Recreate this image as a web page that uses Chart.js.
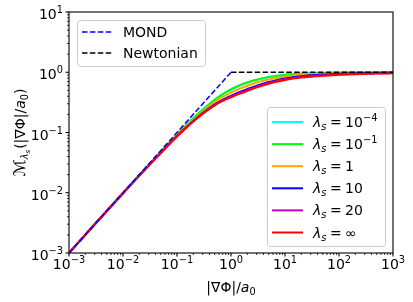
<!DOCTYPE html>
<html><head><meta charset="utf-8">
<script src="https://cdn.jsdelivr.net/npm/chart.js@4"></script>
<style>html,body{margin:0;padding:0;background:#fff}canvas{display:block}</style>
</head><body>
<canvas id="c" width="413" height="302"></canvas>
<script>
// ---- data ----
const xValues = [0.001,0.003,0.01,0.02,0.05,0.1,0.2,0.3,0.5,0.7,1,1.5,2,3,5,7,10,20,50,100,200,500,1000];
const yCyan    = [0.001,0.003,0.0099,0.0196,0.048,0.0935,0.173,0.24,0.352,0.433,0.523,0.618,0.678,0.753,0.832,0.872,0.907,0.946,0.971,0.983,0.99,0.995,0.997];
const yGreen   = [0.001,0.003,0.0099,0.0196,0.048,0.093,0.172,0.238,0.35,0.43,0.52,0.615,0.675,0.75,0.83,0.87,0.905,0.945,0.97,0.982,0.99,0.995,0.997];
const yOrange  = [0.001,0.003,0.0099,0.0195,0.047,0.09,0.163,0.222,0.318,0.385,0.46,0.54,0.595,0.675,0.76,0.805,0.85,0.91,0.95,0.97,0.98,0.99,0.993];
const yBlue    = [0.001,0.003,0.0098,0.0193,0.046,0.087,0.155,0.21,0.292,0.348,0.405,0.475,0.525,0.6,0.69,0.74,0.79,0.86,0.915,0.94,0.96,0.975,0.98];
const yMagenta = [0.001,0.003,0.0098,0.0192,0.0457,0.0865,0.153,0.207,0.287,0.34,0.393,0.458,0.505,0.577,0.665,0.715,0.765,0.835,0.893,0.92,0.945,0.96,0.97];
const yRed     = [0.001,0.003,0.0098,0.0192,0.0455,0.086,0.152,0.205,0.283,0.335,0.385,0.445,0.49,0.56,0.645,0.695,0.745,0.815,0.875,0.905,0.93,0.95,0.96];
const mondX = [0.001, 1];
const mondY = [0.001, 1];
const newtonX = [1, 1000];
const newtonY = [1, 1];
const lambdaLabels = [['10','−4'],['10','−1'],['1',null],['10',null],['20',null],['∞',null]];
const xTickValues = [1e-3,1e-2,1e-1,1,10,100,1000];
const xTickLabels = [['10','−3'],['10','−2'],['10','−1'],['10','0'],['10','1'],['10','2'],['10','3']];
const yTickValues = [1e-3,1e-2,1e-1,1,10];
const yTickLabels = [['10','−3'],['10','−2'],['10','−1'],['10','0'],['10','1']];
const minorMultipliers = [2,3,4,5,6,7,8,9];

const FONT = "'DejaVu Sans'";
const pts = (xs, ys) => xs.map((x,i)=>({x:x, y:ys[i]}));

function fontStr(size, italic){ return (italic?'italic ':'') + size + 'px ' + FONT; }
function runsWidth(ctx, runs){
  let w=0; for(const r of runs){ ctx.font=fontStr(r.size, r.it); w += (r.gap||0) + ctx.measureText(r.t).width + (r.gapAfter||0);} return w;
}
function drawRuns(ctx, runs, x, y, align){
  const w = runsWidth(ctx, runs);
  let cx = align==='center' ? x - w/2 : align==='right' ? x - w : x;
  ctx.textBaseline='alphabetic'; ctx.textAlign='left';
  for(const r of runs){
    cx += (r.gap||0);
    ctx.font=fontStr(r.size, r.it);
    ctx.fillText(r.t, cx, y + (r.dy||0));
    cx += ctx.measureText(r.t).width + (r.gapAfter||0);
  }
}
function powRuns(lbl, size){
  const r=[{t:lbl[0], size:size}];
  if(lbl[1]!==null) r.push({t:lbl[1], size:size*0.7, dy:-size*0.42});
  return r;
}
function roundRect(ctx,x,y,w,h,r){
  ctx.beginPath(); ctx.moveTo(x+r,y); ctx.lineTo(x+w-r,y); ctx.quadraticCurveTo(x+w,y,x+w,y+r);
  ctx.lineTo(x+w,y+h-r); ctx.quadraticCurveTo(x+w,y+h,x+w-r,y+h); ctx.lineTo(x+r,y+h);
  ctx.quadraticCurveTo(x,y+h,x,y+h-r); ctx.lineTo(x,y+r); ctx.quadraticCurveTo(x,y,x+r,y); ctx.closePath();
}

const curveStyles = [
  {label:'inf', data:yRed, color:'#ff0000'},
  {label:'20', data:yMagenta, color:'#bf00bf'},
  {label:'10', data:yBlue, color:'#0000ff'},
  {label:'1', data:yOrange, color:'#ffa500'},
  {label:'1e-1', data:yGreen, color:'#00ff00'},
  {label:'1e-4', data:yCyan, color:'#00ffff'}
];
const legendColors = ['#00ffff','#00ff00','#ffa500','#0000ff','#bf00bf','#ff0000'];

const datasets = [
  {label:'MOND', data:pts(mondX,mondY), borderColor:'#0000ff', borderWidth:1.5, borderDash:[5.5,2.4], pointRadius:0, tension:0},
  {label:'Newtonian', data:pts(newtonX,newtonY), borderColor:'#000000', borderWidth:1.5, borderDash:[5.5,2.4], pointRadius:0, tension:0}
].concat(curveStyles.map(c=>({label:c.label, data:pts(xValues,c.data), borderColor:c.color, borderWidth:2, pointRadius:0, cubicInterpolationMode:'monotone'})));

const deco = {
  id:'deco',
  afterDatasetsDraw(chart){
    const ctx = chart.ctx, a = chart.chartArea, xs = chart.scales.x, ys = chart.scales.y;
    ctx.save();
    // spines
    ctx.strokeStyle='#000'; ctx.lineWidth=1.1;
    ctx.strokeRect(a.left, a.top, a.right-a.left, a.bottom-a.top);
    // ticks
    ctx.lineWidth=1.1;
    xTickValues.forEach(v=>{ const p=xs.getPixelForValue(v); ctx.beginPath(); ctx.moveTo(p,a.bottom); ctx.lineTo(p,a.bottom+3.5); ctx.stroke(); });
    yTickValues.forEach(v=>{ const p=ys.getPixelForValue(v); ctx.beginPath(); ctx.moveTo(a.left,p); ctx.lineTo(a.left-3.5,p); ctx.stroke(); });
    ctx.lineWidth=0.8;
    xTickValues.slice(0,-1).forEach(v=>minorMultipliers.forEach(m=>{ const p=xs.getPixelForValue(v*m); ctx.beginPath(); ctx.moveTo(p,a.bottom); ctx.lineTo(p,a.bottom+2); ctx.stroke(); }));
    yTickValues.slice(0,-1).forEach(v=>minorMultipliers.forEach(m=>{ const p=ys.getPixelForValue(v*m); ctx.beginPath(); ctx.moveTo(a.left,p); ctx.lineTo(a.left-2,p); ctx.stroke(); }));
    // tick labels
    ctx.fillStyle='#000';
    xTickValues.forEach((v,i)=>drawRuns(ctx, powRuns(xTickLabels[i],14), xs.getPixelForValue(v), a.bottom+16, 'center'));
    yTickValues.forEach((v,i)=>drawRuns(ctx, powRuns(yTickLabels[i],14), a.left-6, ys.getPixelForValue(v)+7, 'right'));
    // x title
    drawRuns(ctx, [{t:'|∇Φ|/',size:14},{t:'a',size:14,it:true},{t:'0',size:9.8,dy:2.5}], (a.left+a.right)/2, 292, 'center');
    // y title
    ctx.save(); ctx.translate(20, (a.top+a.bottom)/2); ctx.rotate(-Math.PI/2);
    drawRuns(ctx, [{t:'ℳ',size:16,it:true},{t:'λ',size:9.8,it:true,dy:3},{t:'s',size:7,it:true,dy:5},{t:'(|∇Φ|/',size:14,gap:1},{t:'a',size:14,it:true},{t:'0',size:9.8,dy:2.5},{t:')',size:14}], 0, 5, 'center');
    ctx.restore();
    // legend 1
    ctx.fillStyle='rgba(255,255,255,0.8)'; ctx.strokeStyle='#cccccc'; ctx.lineWidth=1;
    roundRect(ctx,77.5,20.5,128,46,3); ctx.fill(); ctx.stroke();
    [['MOND','#0000ff',32],['Newtonian','#000000',53]].forEach(r=>{
      ctx.strokeStyle=r[1]; ctx.lineWidth=1.5; ctx.setLineDash([5.5,2.4]);
      ctx.beginPath(); ctx.moveTo(82,r[2]); ctx.lineTo(112,r[2]); ctx.stroke(); ctx.setLineDash([]);
      ctx.fillStyle='#000'; drawRuns(ctx,[{t:r[0],size:14}],123,r[2]+5,'left');
    });
    // legend 2
    ctx.fillStyle='rgba(255,255,255,0.8)'; ctx.strokeStyle='#cccccc'; ctx.lineWidth=1;
    roundRect(ctx,267.5,107.5,118,139,3); ctx.fill(); ctx.stroke();
    lambdaLabels.forEach((lbl,i)=>{
      const y = 122 + i*22.1;
      ctx.strokeStyle=legendColors[i]; ctx.lineWidth=2;
      ctx.beginPath(); ctx.moveTo(272,y); ctx.lineTo(303,y); ctx.stroke();
      ctx.fillStyle='#000';
      const runs=[{t:'λ',size:14,it:true},{t:'s',size:9.8,it:true,dy:3},{t:'=',size:14,gap:3.5,gapAfter:3.5}].concat(powRuns(lbl,14));
      drawRuns(ctx,runs,313,y+5,'left');
    });
    ctx.restore();
  }
};

new Chart(document.getElementById('c'), {
  type:'line',
  data:{datasets:datasets},
  options:{
    responsive:false, animation:false, devicePixelRatio:1,
    layout:{padding:{top:12,right:20,left:0,bottom:0}},
    plugins:{legend:{display:false}, tooltip:{enabled:false}},
    scales:{
      x:{type:'logarithmic', min:1e-3, max:1e3, grid:{display:false}, border:{display:false}, ticks:{display:false},
         afterFit:(s)=>{s.height=49;}},
      y:{type:'logarithmic', min:1e-3, max:10, grid:{display:false}, border:{display:false}, ticks:{display:false},
         afterFit:(s)=>{s.width=69;}}
    }
  },
  plugins:[deco]
});
</script>
</body></html>
